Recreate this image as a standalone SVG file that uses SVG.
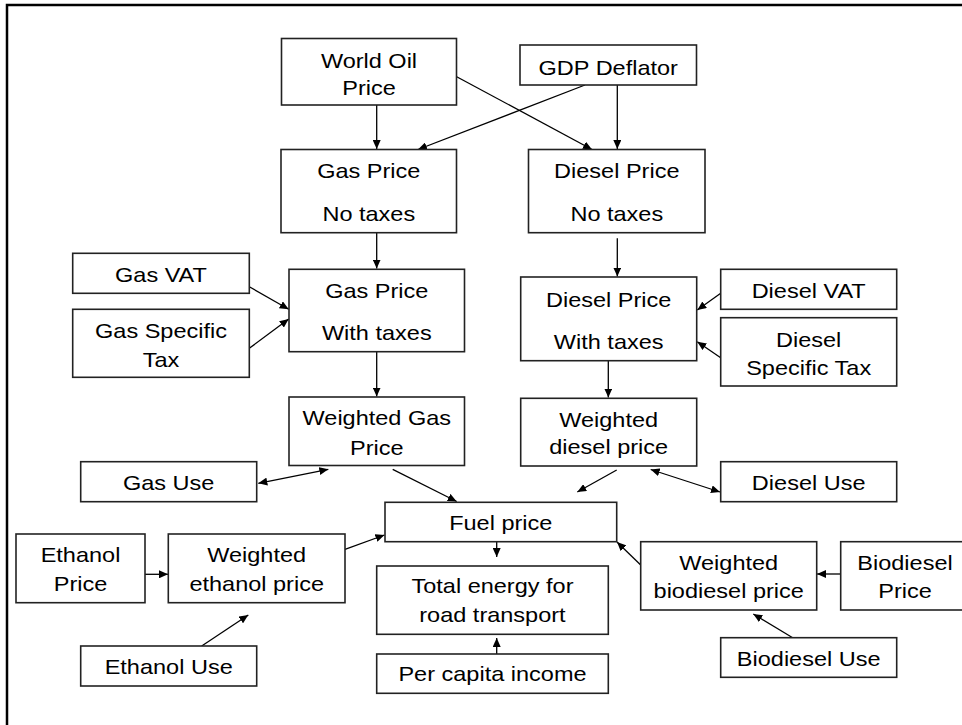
<svg xmlns="http://www.w3.org/2000/svg" width="962" height="725" viewBox="0 0 962 725">
<style>
.b{fill:#fff;stroke:#222;stroke-width:1.6}
.t{font-family:"Liberation Sans",Arial,sans-serif;font-size:21px;fill:#000;text-anchor:middle;transform-box:fill-box;transform-origin:center;transform:scaleX(1.12)}
.c{stroke:#000;stroke-width:1.3;fill:none}
.a{marker-end:url(#ah)}
.d{marker-start:url(#ah);marker-end:url(#ah)}
</style>
<defs>
<marker id="ah" markerUnits="userSpaceOnUse" markerWidth="10" markerHeight="8" refX="9" refY="4" orient="auto-start-reverse">
<path d="M0,0 L9,4 L0,8 z" fill="#000"/>
</marker>
</defs>
<rect width="962" height="725" fill="#fff"/>
<path d="M7,725 V5 H962" fill="none" stroke="#000" stroke-width="2.5"/>
<g id="connectors">
<line class="c a" x1="376.7" y1="105" x2="376.7" y2="149"/>
<line class="c a" x1="585" y1="85" x2="418" y2="149.5"/>
<line class="c a" x1="456.7" y1="76.7" x2="592" y2="149.5"/>
<line class="c a" x1="617.3" y1="85" x2="617.3" y2="149"/>
<line class="c a" x1="376.7" y1="230" x2="376.7" y2="268.5"/>
<line class="c a" x1="617.3" y1="238.3" x2="617.3" y2="276.5"/>
<line class="c a" x1="249.3" y1="286.7" x2="288.7" y2="309.3"/>
<line class="c a" x1="249.3" y1="348.3" x2="288.7" y2="319"/>
<line class="c a" x1="376.7" y1="351.7" x2="376.7" y2="396.5"/>
<line class="c a" x1="720.7" y1="293.3" x2="697.3" y2="310"/>
<line class="c a" x1="720.7" y1="357.7" x2="697.3" y2="341.7"/>
<line class="c a" x1="608.3" y1="358.3" x2="608.3" y2="397.5"/>
<line class="c a" x1="616.7" y1="470" x2="577.3" y2="492"/>
<line class="c d" x1="650.7" y1="469.5" x2="720" y2="492"/>
<line class="c d" x1="258.3" y1="483.3" x2="328.3" y2="469.3"/>
<line class="c a" x1="392.7" y1="469.3" x2="456.7" y2="501.5"/>
<line class="c a" x1="145" y1="574.3" x2="168" y2="574.3"/>
<line class="c a" x1="345" y1="549.3" x2="384.5" y2="535"/>
<line class="c a" x1="201.7" y1="646" x2="248.3" y2="615"/>
<line class="c a" x1="496.7" y1="541.7" x2="496.7" y2="557"/>
<line class="c a" x1="496.7" y1="654" x2="496.7" y2="638"/>
<line class="c a" x1="640.7" y1="565" x2="617" y2="542"/>
<line class="c a" x1="840.7" y1="574" x2="817" y2="574"/>
<line class="c a" x1="792.7" y1="637.7" x2="753.3" y2="614"/>
</g>
<g id="world-oil-price"><rect class="b" x="281.5" y="38.5" width="175" height="66.5"/><text class="t" x="369" y="68">World Oil</text><text class="t" x="369" y="95">Price</text></g>
<g id="gdp-deflator"><rect class="b" x="520" y="45" width="176.5" height="40"/><text class="t" x="608.3" y="75">GDP Deflator</text></g>
<g id="gas-price-no-taxes"><rect class="b" x="281" y="149.5" width="175.5" height="83.2"/><text class="t" x="368.8" y="178.3">Gas Price</text><text class="t" x="368.8" y="221">No taxes</text></g>
<g id="diesel-price-no-taxes"><rect class="b" x="528.5" y="149.5" width="176.5" height="83.2"/><text class="t" x="616.8" y="178.3">Diesel Price</text><text class="t" x="616.8" y="221">No taxes</text></g>
<g id="gas-vat"><rect class="b" x="72.7" y="253.3" width="176.6" height="40"/><text class="t" x="161" y="281.7">Gas VAT</text></g>
<g id="gas-specific-tax"><rect class="b" x="72.7" y="309.3" width="176.6" height="68"/><text class="t" x="161" y="337.7">Gas Specific</text><text class="t" x="161" y="366.7">Tax</text></g>
<g id="gas-price-with-taxes"><rect class="b" x="289" y="269.3" width="175.5" height="82.4"/><text class="t" x="376.8" y="298.3">Gas Price</text><text class="t" x="376.8" y="340.3">With taxes</text></g>
<g id="diesel-price-with-taxes"><rect class="b" x="520.7" y="277" width="176" height="83.7"/><text class="t" x="608.7" y="306.7">Diesel Price</text><text class="t" x="608.7" y="349.3">With taxes</text></g>
<g id="diesel-vat"><rect class="b" x="720.7" y="269.3" width="176" height="40"/><text class="t" x="808.7" y="298.3">Diesel VAT</text></g>
<g id="diesel-specific-tax"><rect class="b" x="720.7" y="317.7" width="176" height="68.3"/><text class="t" x="808.7" y="347.3">Diesel</text><text class="t" x="808.7" y="375">Specific Tax</text></g>
<g id="weighted-gas-price"><rect class="b" x="289" y="397" width="175.5" height="68.5"/><text class="t" x="376.8" y="425.5">Weighted Gas</text><text class="t" x="376.8" y="455">Price</text></g>
<g id="weighted-diesel-price"><rect class="b" x="520.7" y="398.3" width="176" height="67.7"/><text class="t" x="608.7" y="426.7">Weighted</text><text class="t" x="608.7" y="454">diesel price</text></g>
<g id="gas-use"><rect class="b" x="80.7" y="461.7" width="176" height="40"/><text class="t" x="168.7" y="490.5">Gas Use</text></g>
<g id="diesel-use"><rect class="b" x="720.7" y="461.7" width="176" height="40"/><text class="t" x="808.7" y="490">Diesel Use</text></g>
<g id="fuel-price"><rect class="b" x="385" y="502.3" width="231.7" height="39.4"/><text class="t" x="500.8" y="530">Fuel price</text></g>
<g id="ethanol-price"><rect class="b" x="16" y="534" width="129" height="68.7"/><text class="t" x="80.5" y="561.7">Ethanol</text><text class="t" x="80.5" y="590.7">Price</text></g>
<g id="weighted-ethanol-price"><rect class="b" x="168.3" y="534" width="176.7" height="68.7"/><text class="t" x="256.7" y="561.7">Weighted</text><text class="t" x="256.7" y="590.7">ethanol price</text></g>
<g id="total-energy"><rect class="b" x="376.7" y="566" width="231.6" height="68.3"/><text class="t" x="492.5" y="593.3">Total energy for</text><text class="t" x="492.5" y="622.3">road transport</text></g>
<g id="per-capita-income"><rect class="b" x="376.7" y="654" width="231.6" height="39.3"/><text class="t" x="492.5" y="680.7">Per capita income</text></g>
<g id="weighted-biodiesel-price"><rect class="b" x="640.7" y="541.7" width="176" height="68.3"/><text class="t" x="728.7" y="570">Weighted</text><text class="t" x="728.7" y="598.3">biodiesel price</text></g>
<g id="biodiesel-price"><rect class="b" x="840.7" y="541.7" width="129" height="68.3"/><text class="t" x="905" y="570">Biodiesel</text><text class="t" x="905" y="598.3">Price</text></g>
<g id="ethanol-use"><rect class="b" x="80.7" y="646" width="176" height="40"/><text class="t" x="168.7" y="674.5">Ethanol Use</text></g>
<g id="biodiesel-use"><rect class="b" x="720.7" y="637.7" width="176" height="39.6"/><text class="t" x="808.7" y="666">Biodiesel Use</text></g>
</svg>
